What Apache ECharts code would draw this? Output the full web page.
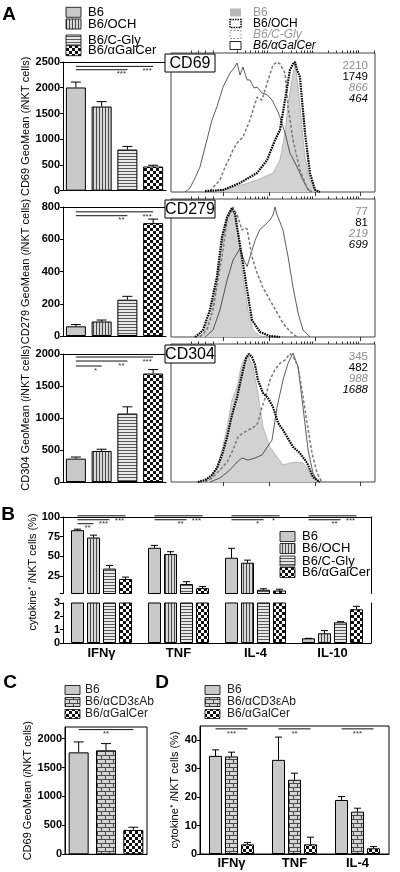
<!DOCTYPE html>
<html><head><meta charset="utf-8">
<script src="https://cdn.jsdelivr.net/npm/echarts@6/dist/echarts.min.js"></script>
<style>html,body{margin:0;padding:0;background:#fff}#c{width:400px;height:872px}</style>
</head><body><div id="c"></div>
<script>
// ---------------- DATA ----------------
const groupsA = ['B6', 'B6/OCH', 'B6/C-Gly', 'B6/αGalCer'];
const cd69Mean = [2005, 1635, 800, 470];
const cd69Err = [105, 95, 60, 25];
const cd279Mean = [60, 90, 225, 700];
const cd279Err = [11, 9, 21, 25];
const cd304Mean = [365, 485, 1070, 1695];
const cd304Err = [25, 27, 105, 62];
const cd69MFI = ['2210', '1749', '866', '464'];
const cd279MFI = ['77', '81', '219', '699'];
const cd304MFI = ['345', '482', '988', '1688'];

// significance: [fromIdx, toIdx, level, stars]
const sigA69 = [[0, 3, 2415, '***'], [0, 2, 2350, '***']];
const sigA279 = [[0, 3, 770, '***'], [0, 2, 746, '**']];
const sigA304 = [[0, 3, 1953, '***'], [0, 2, 1890, '**'], [0, 1, 1812, '*']];

// histogram curves: [channel (0-100 display scale), % of scale height]
const hist69B6 = [[14,0],[21.6,0.7],[28.9,2.9],[36.3,5.8],[42.2,8.6],[46,11],[50,13.7],[53.4,23],[55.9,42.4],[57.4,64],[59.3,80.6],[60.8,92.8],[62.3,75.5],[64.2,46.8],[65.7,25.2],[68.1,8.6],[71.6,0.7],[74,0]];
const hist69OCH = [[16.7,0.7],[25.5,1.4],[33.8,6.5],[42.2,13.7],[47.1,23],[51,37.4],[53.4,44.6],[55.9,66.2],[58.3,87.8],[59.8,92.1],[60.8,93.5],[61.8,87.8],[63.2,82.7],[65.7,42.4],[68.1,13.7],[70.6,1.4],[73,0]];
const hist69CGly = [[19.1,0.7],[24,8.6],[26.5,18],[28.9,25.2],[30.4,30.2],[32.4,35.3],[35.3,39.6],[38.7,51.8],[42.2,68.3],[44.6,66.2],[47.1,78.4],[50,91.4],[52,93.5],[53.4,92.1],[55.9,85.6],[57.4,61.2],[59.8,37.4],[63.2,15.8],[66.7,2.9],[69.1,0]];
const hist69Gal = [[6.9,0],[9.3,2.9],[11.8,10.1],[14.2,18],[17.6,37.4],[20.1,51.8],[22.5,61.2],[25.5,75.5],[28.9,85.6],[30.9,89.2],[32.4,92.8],[33.8,84.2],[35.3,89.9],[37.3,80.6],[38.7,80.6],[40.7,74.8],[42.2,75.5],[44.6,71.2],[47.1,70],[49.5,66.2],[52,59],[53.4,54],[55.9,42.4],[58.3,28.1],[61.8,18],[64.7,8.6],[67.2,1.4],[69.1,0]];

const hist279B6 = [[12.7,0],[15.7,2.2],[19.1,14.5],[22.5,39.1],[25,68.1],[27.5,84.8],[28.9,92],[29.9,93.5],[31.4,87],[32.8,75.4],[35.3,43.5],[37.7,19.6],[40.2,5.1],[43.6,0.7],[46.1,0]];
const hist279OCH = [[11.8,0],[14.2,2.9],[15.7,5.1],[19.1,19.6],[22.5,43.5],[25,72.5],[27.5,87],[29.9,93.5],[31.4,89.1],[32.4,79.7],[34.8,58],[37.3,34.1],[39.7,12.3],[43.6,3.6],[48.5,0.7],[53.4,0]];
const hist279CGly = [[14.2,0],[17.6,5.1],[20.6,19.6],[23,41.3],[25,58],[27.5,84.8],[30.4,94.2],[32.8,87],[34.8,77.5],[36.3,79],[37.3,78.3],[39.7,58],[42.2,46.4],[45,36],[48.5,26.8],[54.9,10],[58.3,4],[61.8,0]];
const hist279Gal = [[16.7,0],[20.6,5.1],[24,19.6],[27.5,41.3],[30.4,55.8],[33.8,64],[35.3,57.2],[37.3,51],[38.7,58],[41.2,70],[43.6,78],[46.1,81.2],[48.5,84.8],[50,88.4],[51,94.2],[52,88.4],[53.4,83.3],[54.9,77.5],[57.4,58],[59.8,36.2],[62.3,17.4],[64.7,5.1],[68.1,0]];

const hist304B6 = [[14.2,0],[19.1,2.9],[22.5,10.9],[25,23.2],[27.5,39.9],[29.9,59.4],[32.4,68.8],[34.3,83.3],[35.8,88.4],[37.7,92],[40.2,83.3],[42.6,64.5],[45.1,39.9],[48.5,25.4],[52,18.1],[54.9,12.3],[58.3,13.8],[61.8,14.5],[64.7,13.8],[68.1,6.5],[71.6,0]];
const hist304OCH = [[13.2,0],[16.7,1.4],[20.1,5.1],[22.5,10.1],[25,19.6],[27.5,32.6],[29.9,48.6],[32.4,61.6],[35.3,81.2],[36.8,89.9],[38.2,92.8],[39.7,90.6],[41.2,84.8],[42.6,73.9],[45.1,64.5],[47.5,60.9],[50,54.3],[52.5,42.8],[54.9,37.7],[56.9,32.6],[59.8,25.4],[63.2,21],[66.7,13.8],[69.6,3.6],[73,0]];
const hist304CGly = [[16.7,0],[20.1,2.9],[24,8.7],[27.5,14.5],[30.4,23.2],[32.8,32.6],[35.3,35.5],[37.7,37.7],[40.2,39.1],[42.6,42.8],[44.6,54],[46.6,63],[48.5,74],[50.9,81.2],[53.4,86],[55.9,88.4],[58.3,93],[60.3,89.9],[62.3,83.3],[64.2,66.7],[66.7,42.8],[69.1,21],[71.6,6.5],[74,0]];
const hist304Gal = [[19.1,0],[24,2.9],[28.9,8.7],[32.4,14.5],[34.8,17.4],[37.7,15.9],[41.2,17.4],[44.6,19.6],[49.5,30.4],[52,54.3],[54.9,73.9],[57.4,86.2],[59.8,93.5],[62.3,83.3],[64.7,54.3],[67.2,23.2],[69.6,6.5],[72.1,0]];

// histogram axis decades (display channel positions)
const histDecades = [25.5, 48, 70.5, 93];
const histLinearTicks = [10, 13.5, 17, 20.5];

// Panel B
const cytoB = ['IFNγ', 'TNF', 'IL-4', 'IL-10'];
const bB6 = [83.3, 61, 48.3, 0.35];
const bB6Err = [1.3, 3, 12, 0];
const bOCH = [74, 53, 42, 0.73];
const bOCHErr = [3, 3, 3.3, 0.2];
const bCGly = [34.6, 15, 7.7, 1.55];
const bCGlyErr = [4, 3, 1.3, 0.05];
const bGal = [21.4, 9.8, 6.8, 2.53];
const bGalErr = [2.4, 2, 1.6, 0.22];
const sigB = [[0,0,3,101.5,'***'],[0,0,2,96.5,'***'],[0,0,1,91.5,'**'],[1,0,3,101.5,'***'],[1,0,2,96.5,'**'],[2,0,3,101.5,'*'],[2,0,2,96.5,'*'],[3,0,3,101.5,'***'],[3,0,2,96.5,'**']];

// Panel C
const groupsC = ['B6', 'B6/αCD3εAb', 'B6/αGalCer'];
const cMean = [1762, 1797, 421];
const cErr = [180, 116, 47];
const sigC = [[0, 2, 2155, '**']];

// Panel D
const cytoD = ['IFNγ', 'TNF', 'IL-4'];
const dB6 = [34.5, 33.1, 19];
const dB6Err = [2.1, 8, 1.2];
const dCD3 = [34.3, 26.1, 14.9];
const dCD3Err = [1.5, 2.3, 1.2];
const dGal = [3.4, 3.4, 2];
const dGalErr = [0.6, 2.5, 0.6];
const sigD = [[0,0,2,44,'***'],[1,0,2,44,'**'],[2,0,2,44,'***']];

// ---------------- STYLES ----------------
const F = '"Liberation Sans", Arial, Helvetica, sans-serif';
function pat(w, h, draw) { const c = document.createElement('canvas'); c.width = w; c.height = h; draw(c.getContext('2d')); return { image: c, repeat: 'repeat' }; }
const cB6 = '#c9c9c9';
const pOCH = pat(3, 3, g => { g.fillStyle = '#d6d6d6'; g.fillRect(0,0,3,3); g.fillStyle = '#4a4a4a'; g.fillRect(0,0,1,3); });
const pCGly = pat(3, 3, g => { g.fillStyle = '#e8e8e8'; g.fillRect(0,0,3,3); g.fillStyle = '#5a5a5a'; g.fillRect(0,0,3,1); });
const pGal = pat(6, 6, g => { g.fillStyle = '#fff'; g.fillRect(0,0,6,6); g.fillStyle = '#111'; g.fillRect(0,0,3,3); g.fillRect(3,3,3,3); });
const pCD3 = pat(8, 8, g => { g.fillStyle = '#d4d4d4'; g.fillRect(0,0,8,8); g.fillStyle = '#4a4a4a'; g.fillRect(0,3,8,1); g.fillRect(0,7,8,1); g.fillRect(1,0,1,3); g.fillRect(5,4,1,3); });
const patsA = [cB6, pOCH, pCGly, pGal];
const patsC = [cB6, pCD3, pGal];

const grids = [], xAxes = [], yAxes = [], series = [], graphics = [];
function addGrid(g) { grids.push(Object.assign({ containLabel: false }, g)); return grids.length - 1; }
function addX(a) { xAxes.push(a); return xAxes.length - 1; }
function addY(a) { yAxes.push(a); return yAxes.length - 1; }
const blackLine = { show: true, lineStyle: { color: '#000', width: 1 } };
const noAxis = { axisLine: { show: false }, axisTick: { show: false }, axisLabel: { show: false }, splitLine: { show: false } };
const yLabel = { fontFamily: F, fontWeight: 'bold', fontSize: 11, color: '#000', margin: 3, formatter: v => String(v) };
const nameStyle = { fontFamily: F, fontSize: 11, color: '#000', rich: { i: { fontFamily: F, fontSize: 11, fontStyle: 'italic', color: '#000' } } };

// error bars; lo/hi = visible value range of the axis (skip parts outside)
function errSeries(xi, yi, means, errs, nBars, barIdx, pitch, capW, lo, hi) {
  return { type: 'custom', xAxisIndex: xi, yAxisIndex: yi, clip: true, silent: true, z: 4,
    data: means.map((m, i) => [i, m, m + errs[i]]),
    renderItem: (p, api) => {
      const m = api.value(1), t = api.value(2);
      if (t <= lo || m >= hi) return null;
      const a = api.coord([api.value(0), Math.max(m, lo)]);
      const b = api.coord([api.value(0), Math.min(t, hi)]);
      const x = a[0] + (barIdx - (nBars - 1) / 2) * pitch;
      const ch = [{ type: 'line', shape: { x1: x, y1: a[1], x2: x, y2: b[1] }, style: { stroke: '#000', lineWidth: 1 } }];
      if (t < hi) ch.push({ type: 'line', shape: { x1: x - capW / 2, y1: b[1], x2: x + capW / 2, y2: b[1] }, style: { stroke: '#000', lineWidth: 1 } });
      return { type: 'group', children: ch };
    } };
}
// sig for single-series charts: [from, to, level, stars]
function sigSeries(xi, yi, sigs, mode) {
  return { type: 'custom', xAxisIndex: xi, yAxisIndex: yi, clip: false, silent: true, z: 6,
    data: sigs.map(s => [s[0], s[2]]),
    renderItem: (p, api) => {
      const s = sigs[p.dataIndex];
      const a = api.coord([s[0], s[2]]), b = api.coord([s[1], s[2]]);
      const tx = mode === 'mid' ? (a[0] + b[0]) / 2 : b[0] - 6;
      return { type: 'group', children: [
        { type: 'line', shape: { x1: a[0], y1: a[1], x2: b[0], y2: b[1] }, style: { stroke: '#111', lineWidth: 1 } },
        { type: 'text', x: tx, y: a[1] + 4.5, style: { text: s[3], fill: '#333', font: '8px ' + F, align: 'center', verticalAlign: 'middle' } }
      ] };
    } };
}
// sig for grouped charts: [cat, fromBar, toBar, level, stars]
function sigGroupSeries(xi, yi, sigs, nBars, pitch, mode) {
  return { type: 'custom', xAxisIndex: xi, yAxisIndex: yi, clip: false, silent: true, z: 6,
    data: sigs.map(s => [s[0], s[3]]),
    renderItem: (p, api) => {
      const s = sigs[p.dataIndex];
      const c = api.coord([s[0], s[3]]);
      const x1 = c[0] + (s[1] - (nBars - 1) / 2) * pitch, x2 = c[0] + (s[2] - (nBars - 1) / 2) * pitch;
      const tx = mode === 'mid' ? (x1 + x2) / 2 : x2 - 6;
      return { type: 'group', children: [
        { type: 'line', shape: { x1: x1, y1: c[1], x2: x2, y2: c[1] }, style: { stroke: '#111', lineWidth: 1 } },
        { type: 'text', x: tx, y: c[1] + 4.5, style: { text: s[4], fill: '#333', font: '8px ' + F, align: 'center', verticalAlign: 'middle' } }
      ] };
    } };
}

// ---------------- PANEL A ----------------
function barPanelA(rect, means, errs, yMax, yInt, name, sigs) {
  const gi = addGrid(rect);
  const xi = addX(Object.assign({ type: 'category', gridIndex: gi, data: groupsA }, noAxis, { axisLine: blackLine }));
  addX(Object.assign({ type: 'category', gridIndex: gi, data: groupsA, position: 'top' }, noAxis, { axisLine: blackLine }));
  const yi = addY({ type: 'value', gridIndex: gi, min: 0, max: yMax, interval: yInt, axisLine: blackLine,
    axisTick: { show: true, length: 3, lineStyle: { color: '#000' } }, axisLabel: yLabel, splitLine: { show: false },
    name: name, nameLocation: 'middle', nameGap: 32, nameTextStyle: nameStyle });
  series.push({ type: 'bar', xAxisIndex: xi, yAxisIndex: yi, barWidth: 20, z: 3,
    data: means.map((v, i) => ({ value: v, itemStyle: { color: patsA[i], borderColor: '#000', borderWidth: 1 } })) });
  series.push(errSeries(xi, yi, means, errs, 1, 0, 0, 10, 0, yMax));
  series.push(sigSeries(xi, yi, sigs, 'end'));
}
const histMajor = histDecades;
const histMinor = histLinearTicks.slice();
histDecades.forEach(d => { for (let m = 2; m <= 9; m++) { const v = d + Math.log10(m) * 22.5; if (v < 100) histMinor.push(+v.toFixed(2)); } });
function histPanel(rect, curves, mfi, label) {
  const gi = addGrid(Object.assign({ show: true, borderColor: '#444', borderWidth: 1 }, rect));
  const xi = addX({ type: 'value', gridIndex: gi, min: 0, max: 100, axisLine: { show: false }, splitLine: { show: false },
    axisTick: { show: true, inside: false, length: 4, customValues: histMajor, lineStyle: { color: '#333' } }, axisLabel: { show: false } });
  addX({ type: 'value', gridIndex: gi, min: 0, max: 100, axisLine: { show: false }, splitLine: { show: false },
    axisTick: { show: true, inside: false, length: 2.5, customValues: histMinor, lineStyle: { color: '#333' } }, axisLabel: { show: false } });
  const yi = addY(Object.assign({ type: 'value', gridIndex: gi, min: 0, max: 100 }, noAxis));
  const st = [
    { lineStyle: { color: '#9a9a9a', width: 0.6 }, areaStyle: { color: '#d2d2d2', opacity: 1 }, z: 2 },
    { lineStyle: { color: '#000', width: 2.2, type: [1.6, 0.9] }, z: 5 },
    { lineStyle: { color: '#7a7a7a', width: 1.5, type: [3, 2] }, z: 4 },
    { lineStyle: { color: '#333', width: 0.8 }, z: 3 }
  ];
  curves.forEach((c, i) => series.push(Object.assign({ type: 'line', xAxisIndex: xi, yAxisIndex: yi, data: c, showSymbol: false, symbol: 'none', silent: true }, st[i])));
  const top = rect.top;
  const tStyles = [{ fill: '#8c8c8c', fontStyle: 'normal' }, { fill: '#000', fontStyle: 'normal' }, { fill: '#8c8c8c', fontStyle: 'italic' }, { fill: '#000', fontStyle: 'italic' }];
  mfi.forEach((t, i) => graphics.push({ type: 'text', x: 368, y: top + 13 + i * 11, z: 10,
    style: Object.assign({ text: t, fontFamily: F, fontSize: 11.5, align: 'right', verticalAlign: 'middle' }, tStyles[i]) }));
  graphics.push({ type: 'rect', shape: { x: 165, y: top + 1, width: 50, height: 18 }, z: 20, style: { fill: '#fff', stroke: '#000', lineWidth: 1 } });
  graphics.push({ type: 'text', x: 190, y: top + 10.5, z: 21, style: { text: label, fontFamily: F, fontSize: 16, fill: '#000', align: 'center', verticalAlign: 'middle' } });
}

barPanelA({ left: 63, top: 62, width: 103, height: 128.7 }, cd69Mean, cd69Err, 2500, 500, 'CD69 GeoMean ({i|i}NKT cells)', sigA69);
histPanel({ left: 171, top: 53, width: 204, height: 139 }, [hist69B6, hist69OCH, hist69CGly, hist69Gal], cd69MFI, 'CD69');
barPanelA({ left: 63, top: 207, width: 103, height: 129 }, cd279Mean, cd279Err, 800, 200, 'CD279 GeoMean ({i|i}NKT cells)', sigA279);
histPanel({ left: 171, top: 199, width: 204, height: 138 }, [hist279B6, hist279OCH, hist279CGly, hist279Gal], cd279MFI, 'CD279');
barPanelA({ left: 63, top: 354, width: 103, height: 128 }, cd304Mean, cd304Err, 2000, 500, 'CD304 GeoMean ({i|i}NKT cells)', sigA304);
histPanel({ left: 171, top: 344, width: 204, height: 138 }, [hist304B6, hist304OCH, hist304CGly, hist304Gal], cd304MFI, 'CD304');

// ---------------- PANEL B ----------------
const bSeriesVals = [[bB6, bB6Err], [bOCH, bOCHErr], [bCGly, bCGlyErr], [bGal, bGalErr]];
const pitchB = 16;
{
  const gU = addGrid({ left: 63, top: 517, width: 308, height: 76.5 });
  const gL = addGrid({ left: 63, top: 603, width: 308, height: 40 });
  const xU = addX(Object.assign({ type: 'category', gridIndex: gU, data: cytoB }, noAxis));
  addX(Object.assign({ type: 'category', gridIndex: gU, data: cytoB, position: 'top' }, noAxis, { axisLine: blackLine }));
  const xL = addX(Object.assign({ type: 'category', gridIndex: gL, data: cytoB }, noAxis, { axisLine: blackLine,
    axisLabel: { show: true, fontFamily: F, fontWeight: 'bold', fontSize: 13, color: '#000', margin: 4 } }));
  const yU = addY({ type: 'value', gridIndex: gU, min: 3, max: 100, axisLine: blackLine, splitLine: { show: false },
    axisTick: { show: true, length: 3, customValues: [3, 25, 50, 75, 100], lineStyle: { color: '#000' } },
    axisLabel: Object.assign({ customValues: [25, 50, 75, 100] }, yLabel) });
  addY(Object.assign({ type: 'value', gridIndex: gU, min: 3, max: 100, position: 'right' }, noAxis, { axisLine: blackLine }));
  const yL = addY({ type: 'value', gridIndex: gL, min: 0, max: 3, interval: 1, axisLine: blackLine, splitLine: { show: false },
    axisTick: { show: true, length: 3, lineStyle: { color: '#000' } }, axisLabel: yLabel });
  addY(Object.assign({ type: 'value', gridIndex: gL, min: 0, max: 3, position: 'right' }, noAxis, { axisLine: blackLine }));
  [[xU, yU, 3, 100], [xL, yL, 0, 3]].forEach(([xi, yi, lo, hi]) => {
    bSeriesVals.forEach(([m, e], k) => {
      series.push({ type: 'bar', xAxisIndex: xi, yAxisIndex: yi, barWidth: 13, barGap: '23%', clip: true, z: 3, data: m,
        itemStyle: { color: patsA[k], borderColor: '#000', borderWidth: 1 } });
    });
    bSeriesVals.forEach(([m, e], k) => series.push(errSeries(xi, yi, m, e, 4, k, pitchB, 7, lo, hi)));
  });
  series.push(sigGroupSeries(xU, yU, sigB, 4, pitchB, 'end'));
}

// ---------------- PANEL C ----------------
{
  const gi = addGrid({ left: 65, top: 727, width: 82, height: 127.3, show: true, borderColor: '#000', borderWidth: 1 });
  const xi = addX(Object.assign({ type: 'category', gridIndex: gi, data: groupsC }, noAxis, { axisLine: blackLine }));
  const yi = addY({ type: 'value', gridIndex: gi, min: 0, max: 2200, axisLine: blackLine, splitLine: { show: false },
    axisTick: { show: true, length: 3, customValues: [0, 500, 1000, 1500, 2000], lineStyle: { color: '#000' } },
    axisLabel: Object.assign({ customValues: [0, 500, 1000, 1500, 2000] }, yLabel),
    name: 'CD69 GeoMean ({i|i}NKT cells)', nameLocation: 'middle', nameGap: 32, nameTextStyle: nameStyle });
  series.push({ type: 'bar', xAxisIndex: xi, yAxisIndex: yi, barWidth: 20, z: 3,
    data: cMean.map((v, i) => ({ value: v, itemStyle: { color: patsC[i], borderColor: '#000', borderWidth: 1 } })) });
  series.push(errSeries(xi, yi, cMean, cErr, 1, 0, 0, 10, 0, 2200));
  series.push(sigSeries(xi, yi, sigC, 'mid'));
}

// ---------------- PANEL D ----------------
{
  const gi = addGrid({ left: 200, top: 726, width: 189, height: 128, show: true, borderColor: '#000', borderWidth: 1 });
  const xi = addX(Object.assign({ type: 'category', gridIndex: gi, data: cytoD }, noAxis, { axisLine: blackLine,
    axisLabel: { show: true, fontFamily: F, fontWeight: 'bold', fontSize: 13, color: '#000', margin: 3 } }));
  const yi = addY({ type: 'value', gridIndex: gi, min: 0, max: 45, axisLine: blackLine, splitLine: { show: false },
    axisTick: { show: true, length: 3, customValues: [0, 10, 20, 30, 40], lineStyle: { color: '#000' } },
    axisLabel: Object.assign({ customValues: [0, 10, 20, 30, 40] }, yLabel),
    name: 'cytokine⁺ {i|i}NKT cells (%)', nameLocation: 'middle', nameGap: 20, nameTextStyle: nameStyle });
  const dVals = [[dB6, dB6Err], [dCD3, dCD3Err], [dGal, dGalErr]];
  dVals.forEach(([m, e], k) => series.push({ type: 'bar', xAxisIndex: xi, yAxisIndex: yi, barWidth: 13, barGap: '23%', z: 3, data: m,
    itemStyle: { color: patsC[k], borderColor: '#000', borderWidth: 1 } }));
  dVals.forEach(([m, e], k) => series.push(errSeries(xi, yi, m, e, 3, k, 16, 7, 0, 45)));
  series.push(sigGroupSeries(xi, yi, sigD, 3, 16, 'mid'));
}

// ---------------- LEGENDS / LABELS ----------------
function legendBox(x, y, w, h, fill, stroke, dash, lw) {
  graphics.push({ type: 'rect', shape: { x: x, y: y - h / 2, width: w, height: h }, z: 10,
    style: { fill: fill || 'none', stroke: stroke || null, lineWidth: lw || 1, lineDash: dash || null } });
}
function legendText(x, y, t, size, extra) {
  graphics.push({ type: 'text', x: x, y: y, z: 10, style: Object.assign({ text: t, fontFamily: F, fontSize: size, fill: '#000', verticalAlign: 'middle', align: 'left' }, extra || {}) });
}
// A left (bars)
[12.3, 24, 40, 50.7].forEach((y, i) => { legendBox(66, y, 15, 10, patsA[i], '#000', null, 0.8); legendText(88, y, groupsA[i], 13); });
// A right (histograms)
const hy = [12.5, 23.5, 34.5, 45.5];
legendBox(230, hy[0], 11, 8, '#b8b8b8', null);
legendBox(230, hy[1], 11, 8, null, '#000', [1.5, 1], 1.5);
legendBox(230, hy[2], 11, 8, null, '#999', [2, 1.5], 1);
legendBox(230, hy[3], 11, 8, null, '#222', null, 1);
legendText(253, hy[0], groupsA[0], 12, { fill: '#999' });
legendText(253, hy[1], groupsA[1], 12);
legendText(253, hy[2], groupsA[2], 12, { fill: '#999', fontStyle: 'italic' });
legendText(253, hy[3], groupsA[3], 12, { fontStyle: 'italic' });
// B legend
[536.5, 548.5, 561, 572.5].forEach((y, i) => { legendBox(280, y, 15, 10, patsA[i], '#000', null, 0.8); legendText(302, y, groupsA[i], 13); });
// C & D legends
[690, 702, 714].forEach((y, i) => {
  legendBox(65, y, 15, 9, patsC[i], '#000', null, 0.8); legendText(85, y, groupsC[i], 12, { fill: '#222' });
  legendBox(205, y, 15, 9, patsC[i], '#000', null, 0.8); legendText(227, y, groupsC[i], 12, { fill: '#222' });
});
// B y-axis name
graphics.push({ type: 'text', x: 33, y: 572, rotation: Math.PI / 2, z: 10,
  style: { text: 'cytokine⁺ {i|i}NKT cells (%)', fontFamily: F, fontSize: 11, fill: '#000', align: 'center', verticalAlign: 'middle',
    rich: { i: { fontFamily: F, fontSize: 11, fontStyle: 'italic', fill: '#000' } } } });
// panel letters
[['A', 9, 15], ['B', 8, 515], ['C', 10, 683], ['D', 162, 683]].forEach(([t, x, y]) =>
  graphics.push({ type: 'text', x: x, y: y, z: 10, style: { text: t, fontFamily: F, fontSize: 19, fontWeight: 'bold', fill: '#000', align: 'center', verticalAlign: 'middle' } }));

const chart = echarts.init(document.getElementById('c'), null, { renderer: 'canvas' });
chart.setOption({ animation: false, backgroundColor: '#fff', grid: grids, xAxis: xAxes, yAxis: yAxes, series: series, graphic: { elements: graphics } });
</script></body></html>
